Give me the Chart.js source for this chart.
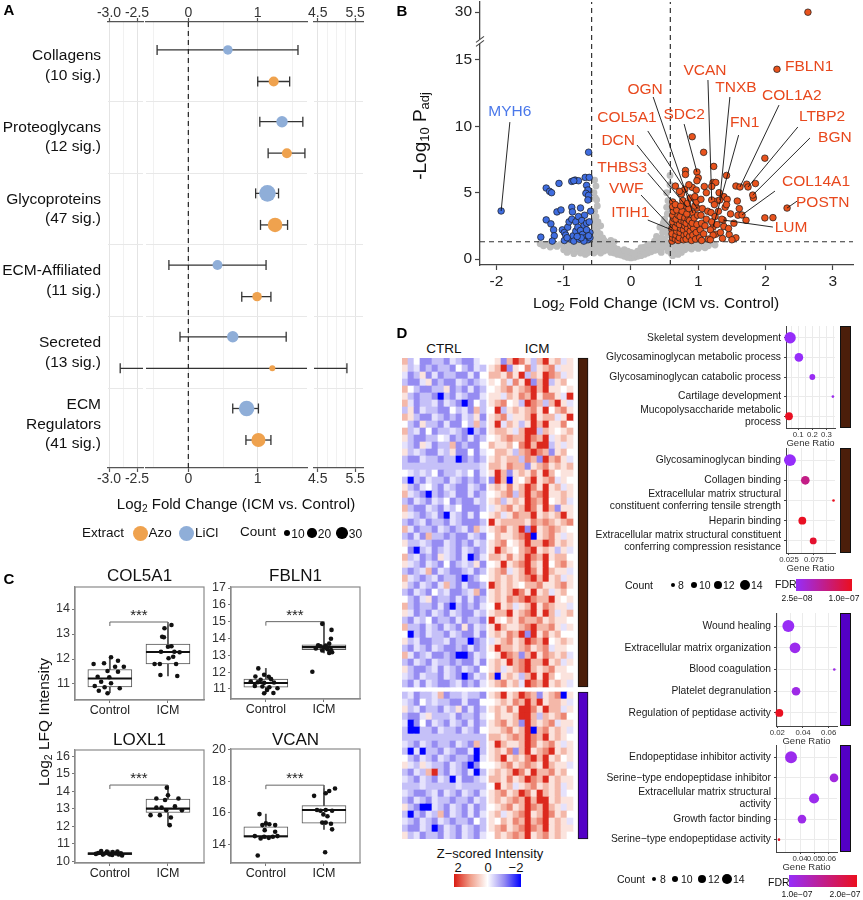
<!DOCTYPE html>
<html><head><meta charset="utf-8">
<script src="https://cdn.jsdelivr.net/npm/chart.js@4.4.1/dist/chart.umd.min.js"></script>
<style>
html,body{margin:0;padding:0;background:#fff;}
#root{position:relative;width:863px;height:900px;overflow:hidden;background:#fff;font-family:'Liberation Sans',Arial,Helvetica,sans-serif;color:#111;}
canvas{position:absolute;}
.t{position:absolute;white-space:nowrap;line-height:1;}
.sub{font-size:0.68em;vertical-align:-0.3em;}
.dot{position:absolute;border-radius:50%;}
</style></head><body><div id="root"></div>
<script>
// ======================= DATA =======================
// ---- Panel A (forest plot) ----
const aGroups = [['Collagens','(10 sig.)'],['Proteoglycans','(12 sig.)'],['Glycoproteins','(47 sig.)'],['ECM-Affiliated','(11 sig.)'],['Secreted','(13 sig.)'],['ECM','Regulators','(41 sig.)']];
const aLiclFC = [0.57, 1.35, 1.14, 0.42, 0.64, 0.84];
const aLiclLo = [-0.45, 1.03, 0.97, -0.28, -0.12, 0.64];
const aLiclHi = [1.58, 1.65, 1.30, 1.12, 1.41, 1.01];
const aLiclCount = [20, 29, 61, 22, 29, 53];
const aAzoFC = [1.23, 1.42, 1.25, 0.99, 1.21, 1.01];
const aAzoLo = [1.00, 1.15, 1.04, 0.77, -2.80, 0.83];
const aAzoHi = [1.46, 1.68, 1.43, 1.19, 5.28, 1.19];
const aAzoCount = [22, 22, 47, 20, 8, 44];
const aTickLabelsLeft = [-3.0, -2.5];
const aTickLabelsMid = [0, 1];
const aTickLabelsRight = [4.5, 5.5];

// ---- Panel B (volcano) ----
const bXTicks = [-2, -1, 0, 1, 2, 3];
const bYTicks = [0, 5, 10, 15, 30];
const volcanoDown = [[-0.63,8.05],[-0.83,5.95],[-0.78,5.9],[-0.68,6.15],[-0.62,6.15],[-0.66,5.55],[-0.64,5.2],[-0.67,4.95],[-0.63,4.8],[-0.64,4.45],[-1.26,5.35],[-1.21,5.1],[-1.18,5.0],[-1.07,5.7],[-0.88,5.85],[-0.85,5.9],[-1.1,3.55],[-1.04,3.7],[-0.88,3.9],[-0.87,3.55],[-0.75,3.85],[-0.69,3.3],[-0.6,3.6],[-1.26,2.95],[-1.19,2.65],[-1.15,2.2],[-1.34,1.65],[-1.14,1.75],[-1.17,1.35],[-1.02,2.2],[-0.99,2.0],[-0.97,1.8],[-0.99,1.4],[-0.94,2.4],[-0.92,2.8],[-0.88,3.0],[-0.82,2.8],[-0.78,3.2],[-0.73,2.9],[-0.7,2.5],[-0.66,2.7],[-0.62,2.8],[-0.9,1.5],[-0.86,1.75],[-0.82,2.1],[-0.79,2.4],[-0.75,2.15],[-0.72,1.85],[-0.68,1.6],[-0.64,1.45],[-0.61,2.0],[-0.61,1.6],[-0.85,1.35],[-0.77,1.5],[-0.7,1.35],[-0.66,2.2],[-0.74,1.6],[-0.8,1.7],[-0.95,1.6],[-0.63,1.75],[-1.93,3.62]];
const volcanoUp = [[2.63,30],[2.17,14.3],[0.91,9.22],[1.08,8.04],[1.99,7.6],[1.23,6.98],[1.42,6.3],[0.81,6.67],[0.81,6.37],[0.98,6.56],[1.0,6.12],[0.98,5.9],[1.22,5.77],[1.26,5.77],[1.2,5.47],[1.09,5.47],[1.85,5.69],[1.72,5.64],[1.56,5.5],[1.62,5.43],[1.74,5.43],[1.82,4.6],[1.81,4.82],[0.66,5.5],[0.80,5.25],[0.91,5.4],[0.97,5.2],[1.31,5.0],[1.38,4.7],[1.43,4.5],[1.28,4.37],[1.58,4.37],[1.61,3.8],[1.59,3.3],[1.65,3.32],[1.71,2.92],[1.99,3.1],[2.11,3.12],[2.32,3.84],[1.53,2.7],[1.38,2.46],[1.26,1.87],[1.46,1.84],[1.56,1.6],[1.33,2.0],[1.20,4.45],[1.32,4.45],[1.37,2.94],[0.92,3.47],[0.98,3.84],[1.22,2.41],[0.83,3.92],[0.62,4.3],[0.61,2.34],[0.61,2.19],
[0.61,1.35],[0.62,1.6],[0.61,1.9],[0.63,2.55],[0.62,2.8],[0.64,3.05],[0.62,3.3],[0.63,3.6],[0.62,3.95],[0.66,1.5],[0.67,1.8],[0.68,2.1],[0.66,2.4],[0.69,2.7],[0.67,3.0],[0.7,3.3],[0.68,3.7],[0.66,4.1],[0.7,1.4],[0.72,1.6],[0.73,2.0],[0.74,2.3],[0.72,2.6],[0.75,2.9],[0.73,3.2],[0.76,3.6],[0.74,4.0],[0.77,4.4],[0.75,4.9],[0.78,1.45],[0.79,1.8],[0.78,2.2],[0.8,2.5],[0.79,2.8],[0.8,3.1],[0.82,1.5],[0.83,1.9],[0.84,2.3],[0.82,2.7],[0.85,3.0],[0.83,3.4],[0.86,3.8],[0.84,4.2],[0.87,1.7],[0.88,2.1],[0.89,2.5],[0.87,2.9],[0.88,4.6],[0.9,1.4],[0.92,1.8],[0.93,2.3],[0.91,2.7],[0.94,3.1],[0.95,4.0],[0.96,1.5],[0.97,2.0],[0.98,2.6],[0.99,3.3],[0.97,4.3],[1.02,1.6],[1.03,2.2],[1.05,2.7],[1.04,3.3],[1.06,3.8],[1.08,1.9],[1.1,2.5],[1.12,3.0],[1.15,1.5],[1.14,3.6],[1.18,2.2],[1.2,2.8],[1.19,3.5],[1.22,1.8],[1.24,4.1],[1.25,3.2],[1.28,2.6],[1.3,3.6],[1.35,3.0],[1.4,3.9],[1.42,4.1],[1.45,2.3],[1.48,3.4],[1.18,1.45],[1.36,1.55],[1.05,1.4],[0.86,5.6],[0.72,5.1],[1.12,5.0],[0.95,4.7],[1.04,4.5],[1.5,1.45]];
const volcanoNS = [[-1.35,1.15],[-1.25,1.1],[-1.15,1.05],[-1.05,1.1],[-0.98,1.0],[-0.92,1.1],[-0.86,1.15],[-0.8,1.05],[-0.74,1.1],[-0.68,1.05],[-0.63,1.0],[-1.1,0.95],[-0.95,0.9],[-0.85,0.95],[-0.75,0.9],[-0.65,0.85],[-0.58,0.9],
[-0.57,1.4],[-0.55,1.7],[-0.56,2.0],[-0.54,2.3],[-0.53,2.6],[-0.55,2.9],[-0.52,3.2],[-0.54,3.6],[-0.5,4.0],[-0.51,4.45],[-0.53,4.6],[-0.55,5.0],[-0.52,5.5],[-0.54,5.95],[-0.48,1.5],[-0.46,1.9],[-0.5,2.1],[-0.45,2.5],[-0.49,2.8],[-0.42,1.6],[-0.4,1.4],[-0.3,1.4],[-0.25,1.3],
[-0.55,1.2],[-0.5,1.1],[-0.45,1.0],[-0.4,1.15],[-0.35,1.05],[-0.3,0.95],[-0.25,0.85],[-0.2,0.75],[-0.15,0.6],[-0.1,0.5],[-0.05,0.35],[0,0.2],[0.05,0.3],[0.1,0.4],[0.15,0.55],[0.2,0.7],[0.25,0.8],[0.3,0.95],[0.35,1.05],[0.4,1.15],[0.45,1.2],[0.5,1.25],[0.55,1.2],
[-0.55,0.7],[-0.5,0.6],[-0.45,0.75],[-0.4,0.6],[-0.35,0.7],[-0.3,0.5],[-0.25,0.45],[-0.2,0.35],[-0.15,0.3],[-0.1,0.2],[-0.05,0.12],[0,0.08],[0.05,0.12],[0.1,0.2],[0.15,0.25],[0.2,0.35],[0.25,0.45],[0.3,0.55],[0.35,0.65],[0.4,0.7],[0.45,0.8],[0.5,0.9],[0.55,0.95],[-0.42,0.9],[-0.32,0.85],[-0.22,0.6],[0.22,0.55],[0.32,0.75],[0.42,0.95],
[-1.0,0.7],[-0.9,0.65],[-0.8,0.6],[-0.7,0.65],[-0.62,0.55],[-0.95,0.5],[-0.85,0.4],[-0.75,0.45],[-0.68,0.35],[-1.2,0.9],[-1.3,1.0],
[0.6,1.1],[0.65,1.0],[0.7,1.15],[0.75,1.05],[0.8,0.95],[0.85,1.1],[0.9,1.0],[0.95,0.9],[1.0,1.05],[1.05,0.95],[1.1,1.1],[1.15,1.0],[1.2,1.2],[0.7,0.8],[0.8,0.7],[0.9,0.75],[1.0,0.8],[0.65,0.6],[0.75,0.5],[0.6,0.4],[1.1,0.85],[1.25,1.05],
[0.5,1.5],[0.55,1.8],[0.52,2.2],[0.56,2.6],[0.5,3.0],[0.54,3.4],[0.57,3.9],[0.55,4.4],[0.53,5.0],[0.58,5.6],[0.58,6.3],[0.45,1.6],[0.4,1.45],[0.47,2.0],[0.43,2.4],[0.48,2.7],[0.35,1.35],[0.38,1.7],[0.53,3.9],
[-0.9,0.85],[-0.8,0.8],[-0.6,0.75],[-0.5,0.85],[-0.4,0.85],[-0.3,0.75],[-0.2,0.55],[0.1,0.6],[0.2,0.9],[0.3,1.1],[0.4,1.0],[0.5,1.05],[0.65,0.8],[0.75,0.75],[0.85,0.85],[0.95,1.15],[1.05,1.2],[0.6,1.25],[-0.6,1.2],[-0.7,1.25],[-0.45,1.25],[-0.35,1.25],[0.25,1.1],[0.15,0.85],[-0.1,0.7],[0.0,0.5],[-0.05,0.6],[0.05,0.45],[-0.65,0.45],[-0.55,0.45],[-0.45,0.45],[0.62,0.25],[0.7,0.35],[0.55,0.6],[0.45,0.5]];
const bGenes = ['FBLN1','VCAN','TNXB','COL1A2','LTBP2','BGN','COL14A1','POSTN','LUM','OGN','SDC2','COL5A1','FN1','DCN','THBS3','VWF','ITIH1','MYH6'];
const bGeneFC = [2.17,1.20,1.32,1.62,1.74,1.81,1.65,2.32,1.37,0.92,0.98,0.98,1.22,0.83,0.62,0.61,0.61,-1.93];
const bGeneP = [14.3,4.45,4.45,5.43,5.43,4.82,3.32,3.84,2.94,3.47,6.56,3.84,2.41,3.92,4.3,2.34,2.19,3.62];

// ---- Panel C (box plots) ----
const cGroups = ['Control', 'ICM'];
const col5a1Box = [[10.65,10.88,11.22,11.58,12.07],[11.32,11.80,12.28,12.60,13.36]];
const col5a1Pts = [[1.02,12.07],[1.14,11.93],[0.90,11.83],[0.72,11.80],[1.09,11.69],[1.24,11.69],[0.96,11.52],[1.14,11.49],[0.79,11.29],[0.99,11.27],[0.85,11.09],[1.02,11.03],[0.74,10.92],[0.91,10.87],[1.17,10.83],[0.81,10.73],[0.96,10.63],
[1.94,13.23],[2.06,13.36],[1.90,12.89],[1.93,12.87],[2.00,12.49],[2.06,12.51],[1.88,12.29],[2.11,12.29],[2.20,12.27],[2.01,12.03],[1.77,11.80],[1.86,11.80],[2.14,11.80],[2.09,12.09],[1.87,11.36],[2.16,11.32]];
const fbln1Box = [[10.74,11.10,11.35,11.58,12.22],[13.14,13.33,13.48,13.62,14.87]];
const fbln1Pts = [[0.87,12.22],[0.97,11.84],[0.82,11.74],[1.05,11.72],[0.91,11.54],[1.09,11.58],[0.74,11.44],[0.86,11.40],[0.97,11.36],[1.14,11.38],[0.81,11.18],[0.94,11.14],[1.06,11.10],[1.20,11.04],[1.02,10.94],[0.97,10.74],[1.13,10.76],
[1.97,14.87],[2.13,14.51],[2.12,13.98],[2.09,13.69],[2.03,13.58],[1.94,13.53],[2.00,13.47],[2.06,13.36],[2.12,13.31],[2.14,13.18],[2.09,13.14],[1.97,13.29],[1.80,12.02],[1.90,13.60],[2.05,13.44],[1.86,13.40]];
const loxl1Box = [[10.28,10.37,10.43,10.50,10.60],[12.06,12.78,13.00,13.55,14.20]];
const loxl1Pts = [[0.85,10.58],[0.95,10.55],[1.05,10.52],[0.80,10.47],[0.91,10.44],[1.10,10.44],[1.19,10.46],[1.13,10.56],[0.99,10.40],[1.21,10.33],[0.88,10.38],[1.04,10.36],[0.76,10.42],[1.15,10.39],
[1.98,14.20],[2.00,13.77],[1.80,13.58],[2.18,13.58],[1.95,13.50],[2.12,13.14],[1.80,13.06],[1.89,13.06],[1.97,12.91],[2.24,12.91],[1.70,12.63],[1.86,12.63],[2.05,12.50],[2.03,12.06]];
const vcanBox = [[14.36,14.45,14.50,15.10,15.91],[14.94,15.33,16.17,16.45,17.54]];
const vcanPts = [[0.89,15.91],[1.00,15.32],[1.06,15.26],[1.16,15.21],[0.94,15.21],[0.98,14.89],[1.16,14.79],[0.81,14.51],[0.97,14.47],[1.05,14.40],[1.12,14.47],[1.20,14.51],[0.91,14.36],[0.86,13.28],
[1.83,17.07],[2.03,17.24],[2.09,17.38],[2.19,17.54],[1.88,16.17],[1.94,16.12],[2.03,16.17],[2.14,16.12],[1.99,15.89],[2.06,15.77],[1.97,15.37],[2.03,15.37],[2.12,15.30],[2.14,14.94],[2.02,13.48]];
const cBrackets = [13.48, 15.0, 14.35, 17.75];

// ---- Panel D heatmap (z-scores coded: B=-2 b=-1 l=-0.55 v=-0.25 w=0 p=0.3 s=0.75 r=1.2 R=1.9) ----
const zCode = {B:-2, b:-1.0, l:-0.55, v:-0.25, w:0, p:0.3, s:0.75, r:1.2, R:1.9};
const heatCtrlTop = ["slwbbllbvlbbvw","plvblbllbwlbvl","vblpbvbllbbvbw","lbbvpblbbvlblv","swlbbllpblbvbl","plbllbBlbvlbbv","svbllvbvlbBbwl","lpbvllbbwlvbsl","splbbvlblbvlpb","wlbpllbvbbwlsl","slvbwbllvlbBlb","plbbllwvblbvbl","vlbpvbllsblbbw","plvlbbvlpbbwbv","lbbvllbllBblbl","lllllllllllllvl","wvlvlwbllvlwbv","lBlbvllbvlblbl","plbvwlbvlbbvlb","svlbBlblvbbvbl","lbvlbvlwblbbvl","slbbvlbvlwbbbl","pvlblvbBvlbvbw","lblvbllbvlbbbl","svbllbvlblvbsv","lbvbsllblbbvlb","pllvlbbvlblbvl","wbBlvblvlbvlbl","slvblbpvlbvBbv","pvlbvlbwblvlpb","lblvsbvlbblvbl","svlblvbllbBblw","plbvlbvslbvbbl","lbvlbwlvbblvsb","wlbvpbllbvbvbl","slbllbvbBlblbv","pvblbvlbvlbbvl","lbvlwbllbvbllb","sllbvlbvlbpbvl","wBlbvllbvlbbvb","plvbbllvbllBbl","lbvlbvlbblbvbl","svblvbblbBBbvl","lbvlbvllblbbvb","plbblvbvlbvlbw","vlbvllbvlbBbvl","lbvbvlbblvblbv"];
const heatIcmTop = ["wpbsRrplsRpsvp","psRbpwrlpsrvpp","ssprpRlspRrsvp","pwsvrpRbsRlpsw","wpsrpsrRsRppwp","ppvsprsRprrpvR","psrwplRrslsRpv","wRlpspsrpRwsrp","psrvppsRpssvpR","pRvsplpRsRpprw","psspvsRRlspwps","wpsrssRrsRvpsp","sppswrRsRRlpvp","wssplsrRrsbpsw","pspsslrsbRsrpv","ssprssbpsrpsps","pRsbpsprpRswpp","bRsBpwsRpsrvpw","psprpsRrpRpsvp","wpsrlsRsrRppsp","pslpspRrsRwpsv","vpsrpsRrpRsbpp","psvprssRpspsRp","Rpssssprsrspsrp","psrpsRbRpsrspw","wsppsrRBpsrpvp","psrwpsRssRrpsp","pRspwsrRpsplpv","ssprpsRrsRpssw","wpRpsrRspRwsrp","psrvpsRrpRsppv","pspspsrRsRpsvp","Rspspwssrppsrp","pspsRrpRpsvpsw","psprsrRrssRpwp","wRpsvpsRprsppv","pssRpsrRpRsvps","Rpwsprssrpsppw","pRsppsrRssrpvp","psprsRbRprpsww","vpsrpsRrsRwpsp","pRsspsrpsrvpp","wpRrsbsRprspsv","pspRsrRssRpsvp","psvpsrRspsrppw","sBpsplsRpRswpp","psrpsvRrsRpspv"];
const heatCtrlBot = ["lvbllvsbllvllb","vlbwlvllbbvbbw","plvbllbvlpbvbl","lbbvplllvbllbv","vBbwbvlbvlbvbl","lBBllbvllbvlbw","llllllllllllll","vlbvlbllbvlbsl","lBvBllbvlbbvBl","wlbvlbvlbllbBv","pvlpvllbvlbBbw","lbvlsRlbvlbvBl","vlbvlbvlBvbblv","lllvlllllvllll","vlbblvbvlbvlbv","lbvlbvllbllbvl","plbBBvlbvlbvbl","lBlbvlsbvlbvbv","vlbvlbvlbllbwl","lbbvlBbvlbvlbl","plvbllbvlbvlbv"];
const heatIcmBot = ["psRpsRrsbpsrBp","wpsprsRsRpsspv","psprpRRrpRssvp","wsppsRRslspsrw","psrpsbRspsrvpp","ppsrpsRBsrpspv","sspsrsRrsRpspw","pRsppsRrpsrpvp","psprbsRpsrRpsp","psRpsprRsRpswp","wpsrpsrspRsppv","pspsRrpRssrpsw","ssprpsRrsRpspp","wRpsvpsrpspsvp","psrpsRrpRspsvw","pspsrsRsRRpspp","wpsrpsRrsRspvp","psvpsrRpsRrpsw","pwsprsRsrRpspv","psrpsrRrsRpspp","wspsrsRpsrpspw"];

// ---- Panel D dot plots ----
const d1Terms = ['Skeletal system development','Glycosaminoglycan metabolic process','Glycosaminoglycan catabolic process','Cartilage development',['Mucopolysaccharide metabolic','process']];
const d1Ratio = [0.043, 0.105, 0.200, 0.345, 0.035];
const d1Count = [16, 12, 9, 7, 11];
const d1Fdr = [1.0e-8, 1.5e-8, 2.6e-8, 2.8e-8, 1.1e-7];
const d2Terms = ['Glycosaminoglycan binding','Collagen binding',['Extracellular matrix structural','constituent conferring tensile strength'],'Heparin binding',['Extracellular matrix structural constituent','conferring compression resistance']];
const d2Ratio = [0.027, 0.058, 0.115, 0.052, 0.074];
const d2Count = [17, 12, 7, 11, 10];
const d2Fdr = [1.0e-8, 7.0e-8, 1.12e-7, 1.1e-7, 1.05e-7];
const d3Terms = ['Wound healing','Extracellular matrix organization','Blood coagulation','Platelet degranulation','Regulation of peptidase activity'];
const d3Ratio = [0.0286, 0.0338, 0.0644, 0.0346, 0.0216];
const d3Count = [17, 15, 7, 12, 11];
const d3Fdr = [0.80e-7, 0.85e-7, 0.90e-7, 0.90e-7, 2.2e-7];
const d4Terms = ['Endopeptidase inhibitor activity','Serine\u2212type endopeptidase inhibitor',['Extracellular matrix structural','activity'],'Growth factor binding','Serine\u2212type endopeptidase activity'];
const d4Ratio = [0.0336, 0.0639, 0.0498, 0.0413, 0.0251];
const d4Count = [17, 12, 14, 12, 7];
const d4Fdr = [0.85e-7, 0.95e-7, 0.85e-7, 0.88e-7, 2.2e-7];

// ======================= HELPERS =======================
const FONT = "'Liberation Sans', Arial, Helvetica, sans-serif";
Chart.defaults.font.family = FONT;
Chart.defaults.color = '#222';
const root = document.getElementById('root');
const ORANGE = '#EFA24E', BLUE = '#8FAED8';
function makeCanvas(left, top, w, h) {
  const c = document.createElement('canvas');
  c.width = w; c.height = h;
  c.style.left = left + 'px'; c.style.top = top + 'px';
  c.style.width = w + 'px'; c.style.height = h + 'px';
  root.appendChild(c);
  return c;
}
function text(html, x, y, o = {}) {
  const d = document.createElement('div');
  d.className = 't';
  d.innerHTML = html;
  d.style.left = x + 'px'; d.style.top = y + 'px';
  d.style.fontSize = (o.size || 14) + 'px';
  if (o.bold) d.style.fontWeight = 'bold';
  d.style.color = o.color || '#111';
  const ax = o.align === 'left' ? '0' : o.align === 'right' ? '-100%' : '-50%';
  d.style.transform = `translate(${ax},-50%)` + (o.rot ? ` rotate(${o.rot}deg)` : '');
  root.appendChild(d);
  return d;
}
function dot(x, y, r, color) {
  const d = document.createElement('div');
  d.className = 'dot';
  d.style.left = (x - r) + 'px'; d.style.top = (y - r) + 'px';
  d.style.width = (2 * r) + 'px'; d.style.height = (2 * r) + 'px';
  d.style.background = color;
  root.appendChild(d);
}
function bar(x, y, w, h, bg) {
  const d = document.createElement('div');
  d.style.cssText = `position:absolute;left:${x}px;top:${y}px;width:${w}px;height:${h}px;background:${bg};`;
  root.appendChild(d);
}
const zeroPad = s => { s.paddingTop = s.paddingBottom = s.paddingLeft = s.paddingRight = 0; };
const fixW = w => s => { s.width = w; zeroPad(s); };
const fixH = h => s => { s.height = h; zeroPad(s); };
function opts(extra) {
  return Object.assign({responsive:false, maintainAspectRatio:false, animation:false, devicePixelRatio:1, events:[]}, extra,
    {plugins: Object.assign({legend:{display:false}, tooltip:{enabled:false}, title:{display:false}}, extra.plugins || {})});
}
const clamp01 = t => Math.max(0, Math.min(1, t));
const mix = (a, b, t) => a.map((v, i) => Math.round(v + (b[i] - v) * t));
const rgb = c => `rgb(${c[0]},${c[1]},${c[2]})`;

// ======================= PANEL A =======================
const rA = c => 1.06 * Math.sqrt(c);
const OFF = 0.22, AYMIN = -0.61, AYMAX = 5.61;
const aSegs = [
  {min:-3.018, max:-2.393, left:108, right:143, grid:[-3,-2.75,-2.5], lab:aTickLabelsLeft, fmt:v => v.toFixed(1)},
  {min:-0.61, max:1.71, left:146, right:307, grid:[-0.5,0,0.5,1,1.5], lab:aTickLabelsMid, fmt:v => String(v)},
  {min:4.40, max:5.71, left:314, right:363, grid:[4.5,4.75,5,5.25,5.5], lab:aTickLabelsRight, fmt:v => v.toFixed(1)}
];
aSegs.forEach((sg, si) => {
  const padL = si === 0 ? 0 : 22, padR = 22;
  const cLeft = si === 0 ? 0 : sg.left - padL;
  const w = sg.right - cLeft + padR;
  const cvs = makeCanvas(cLeft, 0, w, 495);
  const isLab = v => sg.lab.some(l => Math.abs(l - v) < 1e-6);
  const ds = [];
  ds.push({type:'bubble', data: aLiclFC.map((x, i) => ({x, y: i - OFF, r: rA(aLiclCount[i])})), backgroundColor: BLUE, borderWidth: 0, order: 0});
  ds.push({type:'bubble', data: aAzoFC.map((x, i) => ({x, y: i + OFF, r: rA(aAzoCount[i])})), backgroundColor: ORANGE, borderWidth: 0, order: 0});
  aGroups.forEach((g, i) => {
    [[aLiclLo[i], aLiclHi[i], i - OFF], [aAzoLo[i], aAzoHi[i], i + OFF]].forEach(([lo, hi, y]) => {
      ds.push({type:'line', showLine:true, data:[{x:lo, y}, {x:hi, y}], borderColor:'#333', borderWidth:1.3,
        pointStyle:'line', pointRotation:90, pointRadius:5, pointBorderColor:'#333', pointBorderWidth:1.3, pointBackgroundColor:'#333', order:2});
    });
  });
  if (si === 1) ds.push({type:'line', showLine:true, data:[{x:0, y:AYMIN}, {x:0, y:AYMAX}], borderColor:'#222', borderWidth:1.2, borderDash:[5,4], pointRadius:0, order:1});
  const xAxis = (pos, h) => ({
    type:'linear', position:pos, min:sg.min, max:sg.max, offset:false,
    afterBuildTicks: s => { s.ticks = sg.grid.map(v => ({value:v})); },
    afterFit: fixH(h),
    ticks:{autoSkip:false, maxRotation:0, padding: pos === 'top' ? -4 : -1, font:{size:14}, color:'#333', callback: v => isLab(v) ? sg.fmt(v) : ''},
    grid:{drawOnChartArea: pos === 'bottom', offset:false, color: c => isLab(c.tick.value) ? '#E4E4E4' : '#F1F1F1', lineWidth:1,
      drawTicks:true, tickLength:4, tickWidth:1.2, tickColor: c => isLab(c.tick.value) ? '#555' : 'rgba(0,0,0,0)'},
    border:{display:true, color:'#555', width:1.3}
  });
  const scales = {
    x: xAxis('bottom', 27),
    xt: xAxis('top', 22),
    y: {type:'linear', position:'left', min:AYMIN, max:AYMAX, reverse:true,
      afterBuildTicks: s => { s.ticks = [0.5,1.5,2.5,3.5,4.5].map(v => ({value:v})); },
      afterFit: fixW(0), ticks:{display:false}, grid:{color:'#E8E8E8', drawTicks:false, lineWidth:1}, border:{display:false}}
  };
  if (si === 0) {
    scales.yl = {type:'linear', position:'left', min:AYMIN, max:AYMAX, reverse:true,
      afterBuildTicks: s => { s.ticks = aGroups.map((g, i) => ({value:i})); },
      afterFit: fixW(108),
      ticks:{autoSkip:false, padding:7, font:{size:15.5, lineHeight:1.25}, color:'#111', callback: (v, i) => aGroups[i]},
      grid:{display:false, drawTicks:false}, border:{display:false}};
  }
  new Chart(cvs, {type:'scatter', data:{datasets:ds}, options: opts({layout:{autoPadding:false, padding:{left:padL, right:padR, top:0, bottom:0}}, scales})});
});
text('Log<span class="sub">2</span> Fold Change (ICM vs. Control)', 236, 505, {size:15, color:'#111'});
text('Extract', 82, 533, {size:13.5, align:'left'});
dot(140, 533, 7.5, ORANGE); text('Azo', 148.5, 533, {size:13.5, align:'left'});
dot(186, 533, 7.5, BLUE); text('LiCl', 195, 533, {size:13.5, align:'left'});
text('Count', 240, 532, {size:13.5, align:'left'});
[[10, 287], [20, 312], [30, 342]].forEach(([c, x]) => { dot(x, 533, rA(c), '#000'); text(String(c), x + rA(c) + 1, 534, {size:12, align:'left'}); });

// ======================= PANEL B =======================
const brk = v => v <= 17 ? v : 18.6 + (v - 30) * 0.1;
const bLabelLayout = { // text centre & leader-line start (data units), alignment
  FBLN1:{t:[2.29,14.47], a:'left'}, VCAN:{t:[1.10,14.17], s:[1.144,13.49]}, TNXB:{t:[1.56,12.89], s:[1.47,12.21]},
  COL1A2:{t:[2.39,12.28], s:[2.20,11.6]}, LTBP2:{t:[2.84,10.7], s:[2.48,9.95]}, BGN:{t:[3.03,9.12], s:[2.66,9.12]},
  COL14A1:{t:[2.75,5.8], s:[2.14,5.12]}, POSTN:{t:[2.85,4.22], s:[2.47,4.37]}, LUM:{t:[2.38,2.34], s:[2.11,2.41]},
  OGN:{t:[0.21,12.74], s:[0.33,12.21]}, SDC2:{t:[0.79,10.85], s:[0.79,10.17]}, COL5A1:{t:[-0.06,10.63], s:[0.25,9.65]},
  FN1:{t:[1.69,10.25], s:[1.60,9.34]}, DCN:{t:[-0.19,8.89], s:[0.09,8.59]}, THBS3:{t:[-0.13,6.86], s:[0.25,6.48]},
  VWF:{t:[-0.07,5.27], s:[0.15,4.82]}, ITIH1:{t:[-0.01,3.47], s:[0.25,2.94]}, MYH6:{t:[-1.80,11.08], s:[-1.80,10.32]}
};
(function(){
  const cvs = makeCanvas(430, 0, 433, 320);
  const BX0 = -2.244, BX1 = 3.30, BY0 = -0.45, BY1 = 19.37;
  const ds = [];
  ds.push({data: volcanoNS.map(p => ({x:p[0], y:brk(p[1])})), pointRadius:3.4, pointBackgroundColor:'#BDBDBD', pointBorderWidth:0, order:5});
  ds.push({type:'line', showLine:true, data:[{x:-0.585, y:BY0}, {x:-0.585, y:BY1}], borderColor:'#333', borderWidth:1.2, borderDash:[5,4], pointRadius:0, order:4});
  ds.push({type:'line', showLine:true, data:[{x:0.585, y:BY0}, {x:0.585, y:BY1}], borderColor:'#333', borderWidth:1.2, borderDash:[5,4], pointRadius:0, order:4});
  ds.push({type:'line', showLine:true, data:[{x:BX0, y:1.301}, {x:BX1, y:1.301}], borderColor:'#333', borderWidth:1.2, borderDash:[5,4], pointRadius:0, order:4});
  ds.push({data: volcanoDown.map(p => ({x:p[0], y:brk(p[1])})), pointRadius:3.3, pointBackgroundColor:'#3F6DE0', pointBorderColor:'#1a1a1a', pointBorderWidth:0.7, order:3});
  ds.push({data: volcanoUp.map(p => ({x:p[0], y:brk(p[1])})), pointRadius:3.3, pointBackgroundColor:'#E8531D', pointBorderColor:'#1a1a1a', pointBorderWidth:0.7, order:3});
  bGenes.forEach((g, i) => {
    const L = bLabelLayout[g];
    if (!L.s) return;
    ds.push({type:'line', showLine:true, data:[{x:L.s[0], y:L.s[1]}, {x:bGeneFC[i], y:brk(bGeneP[i])}], borderColor:'#111', borderWidth:0.9, pointRadius:0, order:1});
  });
  const labelPlugin = {id:'bLabels', afterDatasetsDraw(ch) {
    const {ctx, scales:{x, y}} = ch;
    ctx.save();
    ctx.font = `15.5px ${FONT}`; ctx.textBaseline = 'middle';
    bGenes.forEach((g, i) => {
      const L = bLabelLayout[g];
      ctx.fillStyle = g === 'MYH6' ? '#4A78EA' : '#E8481D';
      ctx.textAlign = L.a || 'center';
      ctx.fillText(g, x.getPixelForValue(L.t[0]), y.getPixelForValue(L.t[1]));
    });
    const bx = ch.chartArea.left, by = y.getPixelForValue(16.4);
    ctx.fillStyle = '#fff'; ctx.fillRect(bx - 2, by - 2, 4, 4);
    ctx.strokeStyle = '#444'; ctx.lineWidth = 1.1;
    [-2, 2].forEach(k => { ctx.beginPath(); ctx.moveTo(bx - 4, by + k + 3); ctx.lineTo(bx + 4, by + k - 3); ctx.stroke(); });
    ctx.restore();
  }};
  new Chart(cvs, {type:'scatter', data:{datasets:ds}, options: opts({
    layout:{autoPadding:false, padding:{top:2, right:10, left:0, bottom:0}},
    scales:{
      x:{type:'linear', min:BX0, max:BX1, offset:false, afterBuildTicks: s => { s.ticks = bXTicks.map(v => ({value:v})); }, afterFit: fixH(55),
        ticks:{autoSkip:false, maxRotation:0, font:{size:15.5}, color:'#222', padding:2},
        grid:{drawOnChartArea:false, drawTicks:true, tickLength:5, tickColor:'#444', tickWidth:1.2}, border:{color:'#444', width:1.3}},
      y:{type:'linear', min:BY0, max:BY1, afterBuildTicks: s => { s.ticks = bYTicks.map(v => ({value:brk(v)})); }, afterFit: fixW(50),
        ticks:{autoSkip:false, font:{size:15.5}, color:'#222', padding:3, callback:(v, i) => String(bYTicks[i])},
        grid:{drawOnChartArea:false, drawTicks:true, tickLength:5, tickColor:'#444', tickWidth:1.2}, border:{color:'#444', width:1.3}}
    }}), plugins:[labelPlugin]});
})();
text('-Log<span class="sub">10</span> P<span class="sub">adj</span>', 421, 136, {size:19, rot:-90});
text('Log<span class="sub">2</span> Fold Change (ICM vs. Control)', 656, 304, {size:15.5});

// ======================= PANEL C =======================
function boxChart(g) {
  const L = 40, T = 6, R = 6, B = 26;
  const cvs = makeCanvas(g.left - L, g.top - T, g.w + L + R, g.h + T + B);
  const drop = 4 * (g.ymax - g.ymin) / g.h;
  const ds = [
    {data: g.pts.map(p => ({x:p[0], y:p[1]})), pointRadius:2.3, pointBackgroundColor:'#111', pointBorderWidth:0, order:0},
    {type:'line', showLine:true, data:[{x:1, y:g.br - drop}, {x:1, y:g.br}, {x:2, y:g.br}, {x:2, y:g.br - drop}], borderColor:'#666', borderWidth:1, pointRadius:0, order:1},
    {data: g.box.map((b, i) => ({x:i + 1, y:b[2]})), pointStyle:'line', pointRadius:22, pointBorderWidth:2.2, pointBorderColor:'#111', order:2},
    {type:'bar', data: g.box.map((b, i) => ({x:i + 1, y:[b[1], b[3]]})), backgroundColor:'#fff', borderColor:'#555', borderWidth:1, borderSkipped:false, barThickness:44, grouped:false, order:3},
    {type:'bar', data: g.box.flatMap((b, i) => [{x:i + 1, y:[b[0], b[1]]}, {x:i + 1, y:[b[3], b[4]]}]), backgroundColor:'#555', borderWidth:0, barThickness:1.2, grouped:false, order:4}
  ];
  const deco = {id:'deco', afterDatasetsDraw(ch) {
    const {ctx, chartArea:a, scales:{x, y}} = ch;
    ctx.save();
    ctx.strokeStyle = '#8a8a8a'; ctx.lineWidth = 1.2;
    ctx.strokeRect(a.left, a.top, a.right - a.left, a.bottom - a.top);
    ctx.fillStyle = '#222'; ctx.font = `15px ${FONT}`; ctx.textAlign = 'center'; ctx.textBaseline = 'alphabetic';
    ctx.fillText('***', x.getPixelForValue(1.5), y.getPixelForValue(g.br) - 2);
    ctx.restore();
  }};
  new Chart(cvs, {type:'scatter', data:{datasets:ds}, options: opts({
    layout:{autoPadding:false, padding:{left:0, top:T, right:R, bottom:0}},
    scales:{
      x:{type:'linear', min:0.4, max:2.62, offset:false, afterBuildTicks: s => { s.ticks = [1, 2].map(v => ({value:v})); }, afterFit: fixH(B),
        ticks:{autoSkip:false, maxRotation:0, font:{size:12.5}, color:'#222', padding:0, callback:(v, i) => cGroups[i]},
        grid:{drawOnChartArea:false, offset:false, tickLength:3, tickColor:'#777', tickWidth:1}, border:{color:'#8a8a8a', width:1.2}},
      y:{type:'linear', min:g.ymin, max:g.ymax, afterBuildTicks: s => { s.ticks = g.ticks.map(v => ({value:v})); }, afterFit: fixW(L),
        ticks:{autoSkip:false, font:{size:12.5}, color:'#333', padding:2},
        grid:{drawOnChartArea:false, tickLength:3, tickColor:'#777', tickWidth:1}, border:{color:'#8a8a8a', width:1.2}}
    }}), plugins:[deco]});
}
boxChart({left:75, top:587, w:129, h:113, ymin:10.36, ymax:14.88, ticks:[11,12,13,14], box:col5a1Box, pts:col5a1Pts, br:cBrackets[0]});
boxChart({left:231, top:587, w:129, h:112, ymin:10.4, ymax:17.06, ticks:[11,12,13,14,15,16,17], box:fbln1Box, pts:fbln1Pts, br:cBrackets[1]});
boxChart({left:75, top:750, w:129, h:113, ymin:9.9, ymax:16.35, ticks:[10,11,12,13,14,15,16], box:loxl1Box, pts:loxl1Pts, br:cBrackets[2]});
boxChart({left:231, top:749, w:129, h:114, ymin:12.8, ymax:20.05, ticks:[14,16,18,20], box:vcanBox, pts:vcanPts, br:cBrackets[3]});
text('COL5A1', 139.5, 575, {size:17});
text('FBLN1', 295.5, 575, {size:17});
text('LOXL1', 139.5, 739, {size:17});
text('VCAN', 295.5, 739, {size:17});
text('Log<span class="sub">2</span> LFQ Intensity', 45, 722, {size:15.5, rot:-90});

// ======================= PANEL D heatmap =======================
const NEG = [[255,255,255],[150,140,242],[0,0,255]];
const POS = [[255,255,255],[240,160,140],[218,28,18]];
function zColor(z) {
  const P = z < 0 ? NEG : POS, a = Math.abs(z);
  return a <= 1 ? rgb(mix(P[0], P[1], clamp01(a))) : rgb(mix(P[1], P[2], clamp01(a - 1)));
}
(function(){
  const norm = s => (s + 'wwwwwwwwwwwwww').slice(0, 14);
  const ctrl = heatCtrlTop.concat(heatCtrlBot), icm = heatIcmTop.concat(heatIcmBot);
  const nTop = heatCtrlTop.length;
  const cells = [];
  for (let r = 0; r < ctrl.length; r++) {
    const s = norm(ctrl[r]) + norm(icm[r]);
    const yc = r < nTop ? r : r + 0.71;
    for (let c = 0; c < 28; c++) {
      const z = zCode[s[c]] !== undefined ? zCode[s[c]] : 0;
      cells.push({x: c < 14 ? c : c + 0.5, y:[yc - 0.5, yc + 0.5], z});
    }
  }
  const yMax = ctrl.length - 1 + 0.71 + 0.5;
  const side = [{x:29.67, y:[-0.5, nTop - 0.5]}, {x:29.67, y:[nTop + 0.21, yMax]}];
  const cvs = makeCanvas(402, 357, 188, 483);
  new Chart(cvs, {type:'bar', data:{datasets:[
    {data:cells, backgroundColor: cells.map(d => zColor(d.z)), borderWidth:0, barThickness:6, grouped:false, order:1},
    {data:side, backgroundColor:['#4B1E0A', '#5300C6'], borderColor:'#111', borderWidth:1, borderSkipped:false, barThickness:10, grouped:false, clip:false, order:0}
  ]}, options: opts({layout:{autoPadding:false, padding:{left:0, top:1, right:2, bottom:1}},
    scales:{x:{type:'linear', display:false, min:-0.5, max:30.5, offset:false, grid:{offset:false}},
            y:{type:'linear', display:false, min:-0.5, max:yMax, reverse:true}}})});
})();
text('CTRL', 444, 349, {size:13.5});
text('ICM', 537, 349, {size:13.5});
text('Z\u2212scored Intensity', 490, 853, {size:13});
text('2', 458, 867, {size:13}); text('0', 488, 867, {size:13}); text('\u22122', 516, 867, {size:13});
bar(454, 874, 67, 13, 'linear-gradient(to right, rgb(218,28,18), rgb(240,160,140) 25%, #fff 50%, rgb(150,140,242) 75%, rgb(0,0,255))');

// ======================= PANEL D dot plots =======================
const rCnt = c => Math.sqrt(3.4 * (c - 6.5));
const FLO = [150,45,250], FHI = [235,15,30];
const fdrColor = (f, lo, hi) => rgb(mix(FLO, FHI, clamp01((f - lo) / (hi - lo))));
function dotChart(o) {
  const cl = 575, T = 4, B = 21, R = 22;
  const cvs = makeCanvas(cl, o.top - T, o.right - cl + R, o.bottom - o.top + T + B);
  const colors = o.fdr.map(f => fdrColor(f, o.fdrLo, o.fdrHi));
  const sidePlugin = {id:'side', afterDraw(ch) {
    const a = ch.chartArea, ctx = ch.ctx;
    ctx.save();
    ctx.fillStyle = o.barColor; ctx.fillRect(840 - cl, a.top, 11, a.bottom - a.top);
    ctx.strokeStyle = '#111'; ctx.lineWidth = 1; ctx.strokeRect(840 - cl + 0.5, a.top + 0.5, 10, a.bottom - a.top - 1);
    ctx.restore();
  }};
  new Chart(cvs, {type:'bubble', data:{datasets:[{data: o.ratio.map((x, i) => ({x, y:i, r:rCnt(o.count[i])})), backgroundColor:colors, borderWidth:0, clip:false}]},
    options: opts({layout:{autoPadding:false, padding:{top:T, right:R, left:0, bottom:0}},
      scales:{
        x:{type:'linear', min:o.xmin, max:o.xmax, offset:false, afterBuildTicks: s => { s.ticks = o.grid.map(v => ({value:v})); }, afterFit: fixH(B),
          ticks:{autoSkip:false, maxRotation:0, font:{size:7.8}, color:'#333', padding:0, callback:(v, i) => o.gridLab[i]},
          grid:{color:'#EBEBEB', tickLength:2, tickColor: c => o.gridLab[c.index] ? '#444' : 'rgba(0,0,0,0)'},
          border:{color:'#444', width:1},
          title:{display:true, text:'Gene Ratio', font:{size:9.5}, color:'#333', padding:0}},
        y:{type:'linear', min:-0.6, max:4.6, reverse:true, afterBuildTicks: s => { s.ticks = o.terms.map((t, i) => ({value:i})); }, afterFit: fixW(o.left - cl),
          ticks:{autoSkip:false, font:{size:10.3, lineHeight:1.15}, color:'#1a1a1a', padding:3, callback:(v, i) => o.terms[i]},
          grid:{color:'#EBEBEB', tickLength:2, tickColor:'#444'},
          border:{color:'#444', width:1}}
      }}), plugins:[sidePlugin]});
}
dotChart({top:326, bottom:428, left:786, right:835, xmin:0.014, xmax:0.36, grid:[0.05,0.1,0.15,0.2,0.25,0.3,0.35], gridLab:['','0.1','','0.2','','0.3',''],
  terms:d1Terms, ratio:d1Ratio, count:d1Count, fdr:d1Fdr, fdrLo:2.3e-8, fdrHi:1.12e-7, barColor:'#4B1E0A'});
dotChart({top:448, bottom:553, left:786, right:835, xmin:0.019, xmax:0.118, grid:[0.025,0.05,0.075,0.1], gridLab:['0.025','','0.075',''],
  terms:d2Terms, ratio:d2Ratio, count:d2Count, fdr:d2Fdr, fdrLo:2.3e-8, fdrHi:1.12e-7, barColor:'#4B1E0A'});
dotChart({top:613, bottom:726, left:776, right:837, xmin:0.019, xmax:0.0665, grid:[0.02,0.03,0.04,0.05,0.06], gridLab:['0.02','','0.04','','0.06'],
  terms:d3Terms, ratio:d3Ratio, count:d3Count, fdr:d3Fdr, fdrLo:0.766e-7, fdrHi:2.21e-7, barColor:'#5300C6'});
dotChart({top:745, bottom:852, left:776, right:837, xmin:0.023, xmax:0.066, grid:[0.03,0.04,0.05,0.06], gridLab:['','0.04','0.05','0.06'],
  terms:d4Terms, ratio:d4Ratio, count:d4Count, fdr:d4Fdr, fdrLo:0.766e-7, fdrHi:2.21e-7, barColor:'#5300C6'});
function countLegend(y, rightOfLabel, dotsX, labX) {
  text('Count', rightOfLabel, y, {size:10.5, align:'right'});
  [8, 10, 12, 14].forEach((c, i) => { dot(dotsX[i], y, rCnt(c), '#000'); text(String(c), labX[i], y, {size:10.5, align:'left'}); });
}
countLegend(585, 653, [673, 694, 718, 745], [678, 699, 723, 751]);
text('FDR', 775, 584, {size:10.5, align:'left'});
bar(796, 579, 56, 12, `linear-gradient(to right, ${rgb(FLO)}, ${rgb(FHI)})`);
text('2.5e\u221208', 797, 598, {size:8.5}); text('1.0e\u221207', 844, 598, {size:8.5});
countLegend(879, 645, [654, 675, 702, 727], [660, 681, 708, 733]);
text('FDR', 768, 882, {size:10.5, align:'left'});
bar(789, 875, 68, 12, `linear-gradient(to right, ${rgb(FLO)}, ${rgb(FHI)})`);
text('1.0e\u221207', 797, 894, {size:8.5}); text('2.0e\u221207', 845, 894, {size:8.5});

// ======================= PANEL LETTERS =======================
text('A', 9, 9, {size:15, bold:true, color:'#000'});
text('B', 402, 10, {size:15, bold:true, color:'#000'});
text('C', 9, 578, {size:15, bold:true, color:'#000'});
text('D', 402, 332, {size:15, bold:true, color:'#000'});
</script></body></html>
